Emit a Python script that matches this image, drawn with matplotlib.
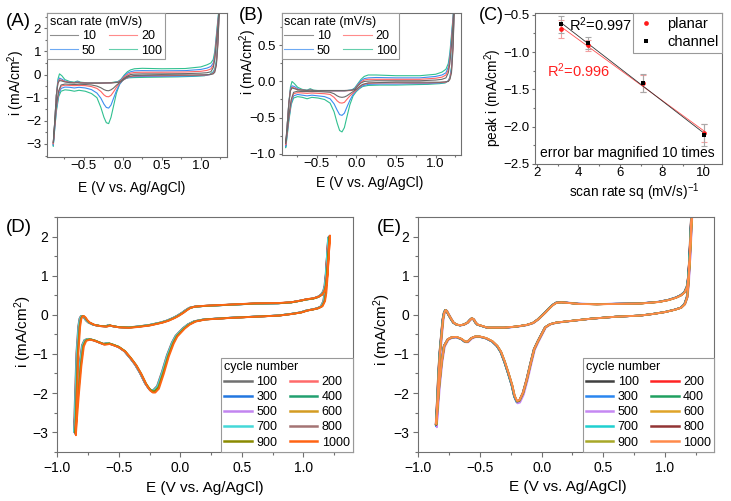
import numpy as np
import matplotlib
matplotlib.use("Agg")
import matplotlib.pyplot as plt
from matplotlib.lines import Line2D
from matplotlib.ticker import MultipleLocator

plt.rcParams['font.family'] = ['Liberation Sans', 'DejaVu Sans']
plt.rcParams['mathtext.fontset'] = 'custom'
plt.rcParams['mathtext.rm'] = 'Liberation Sans'
plt.rcParams['mathtext.it'] = 'Liberation Sans:italic'
plt.rcParams['mathtext.bf'] = 'Liberation Sans:bold'

# ------------------------------------------------------------------ data
# Panels A / B : CV at different scan rates (cathodic sweep then anodic sweep)
scan_rates = ["10", "20", "50", "100"]
scan_colors = ['#6a6a6a', '#ff6464', '#3c8cf0', '#30c090']

cv_E_cath = [1.24, 1.22, 1.20, 1.18, 1.16, 1.12, 1.05, 0.90, 0.70, 0.50, 0.30, 0.15, 0.08, 0.04, 0.00,
             -0.04, -0.08, -0.12, -0.15, -0.18, -0.21, -0.24, -0.28, -0.33, -0.40, -0.48, -0.56, -0.62,
             -0.68, -0.74, -0.79, -0.82, -0.85, -0.87, -0.89]
cv_E_anod = [-0.89, -0.87, -0.85, -0.83, -0.81, -0.78, -0.74, -0.68, -0.62, -0.58, -0.54, -0.45, -0.30,
             -0.15, -0.06, -0.02, 0.02, 0.06, 0.10, 0.15, 0.25, 0.50, 0.80, 1.00, 1.08, 1.13, 1.16, 1.18,
             1.20, 1.22, 1.24]

A_cath_10 = [3.0, 1.3, 0.4, 0.1, 0.03, 0.0, -0.01, -0.02, -0.02, -0.02, -0.03, -0.04, -0.08, -0.15, -0.25,
             -0.35, -0.46, -0.59, -0.66, -0.70, -0.69, -0.65, -0.57, -0.50, -0.45, -0.43, -0.42, -0.43,
             -0.42, -0.41, -0.45, -0.70, -1.30, -2.10, -2.95]
A_cath_20 = [3.0, 1.4, 0.45, 0.15, 0.05, 0.0, -0.02, -0.03, -0.04, -0.05, -0.05, -0.06, -0.10, -0.16, -0.25,
             -0.37, -0.55, -0.76, -0.90, -0.96, -0.95, -0.88, -0.73, -0.60, -0.52, -0.48, -0.47, -0.48,
             -0.47, -0.46, -0.50, -0.75, -1.40, -2.20, -3.00]
A_cath_50 = [3.0, 1.5, 0.5, 0.2, 0.08, 0.0, -0.04, -0.06, -0.07, -0.08, -0.08, -0.09, -0.12, -0.17, -0.25,
             -0.42, -0.70, -1.05, -1.32, -1.45, -1.42, -1.28, -1.02, -0.80, -0.65, -0.58, -0.55, -0.58,
             -0.55, -0.54, -0.60, -0.85, -1.50, -2.30, -3.05]
A_cath_100 = [3.0, 1.6, 0.6, 0.25, 0.12, 0.02, -0.05, -0.08, -0.10, -0.11, -0.12, -0.13, -0.14, -0.16, -0.25,
              -0.42, -0.80, -1.40, -1.85, -2.12, -2.08, -1.85, -1.42, -1.00, -0.82, -0.72, -0.68, -0.72,
              -0.68, -0.66, -0.72, -0.95, -1.60, -2.30, -3.10]
A_anod_10 = [-2.95, -2.0, -0.9, -0.38, -0.26, -0.28, -0.32, -0.35, -0.36, -0.35, -0.36, -0.37, -0.37, -0.36,
             -0.34, -0.28, -0.15, -0.06, 0.0, 0.02, 0.03, 0.03, 0.04, 0.06, 0.08, 0.12, 0.3, 0.65, 1.4, 2.1, 3.0]
A_anod_20 = [-3.0, -2.0, -0.9, -0.35, -0.22, -0.25, -0.30, -0.34, -0.35, -0.33, -0.35, -0.37, -0.37, -0.36,
             -0.33, -0.25, -0.10, 0.0, 0.06, 0.09, 0.10, 0.10, 0.11, 0.14, 0.18, 0.24, 0.4, 0.75, 1.5, 2.2, 3.0]
A_anod_50 = [-3.05, -2.0, -0.9, -0.30, -0.15, -0.20, -0.28, -0.33, -0.35, -0.31, -0.35, -0.37, -0.37, -0.36,
             -0.32, -0.22, -0.06, 0.06, 0.12, 0.16, 0.17, 0.16, 0.17, 0.22, 0.28, 0.35, 0.5, 0.85, 1.6, 2.3, 3.0]
A_anod_100 = [-3.1, -2.0, -0.9, -0.20, 0.03, -0.05, -0.22, -0.30, -0.33, -0.28, -0.33, -0.36, -0.36, -0.35,
              -0.30, -0.20, -0.02, 0.12, 0.20, 0.25, 0.27, 0.25, 0.26, 0.33, 0.42, 0.50, 0.65, 1.0, 1.7, 2.4, 3.0]

B_cath_10 = [1.2, 0.45, 0.12, 0.03, 0.0, -0.005, -0.01, -0.01, -0.01, -0.01, -0.015, -0.02, -0.04, -0.07, -0.11,
             -0.14, -0.17, -0.20, -0.215, -0.22, -0.215, -0.20, -0.17, -0.15, -0.145, -0.14, -0.14, -0.14,
             -0.14, -0.135, -0.15, -0.25, -0.48, -0.68, -0.86]
B_cath_20 = [1.2, 0.5, 0.15, 0.04, 0.005, -0.01, -0.015, -0.02, -0.02, -0.02, -0.02, -0.025, -0.045, -0.08, -0.12,
             -0.16, -0.20, -0.25, -0.29, -0.30, -0.295, -0.27, -0.22, -0.18, -0.17, -0.165, -0.16, -0.165,
             -0.16, -0.155, -0.17, -0.27, -0.50, -0.70, -0.88]
B_cath_50 = [1.2, 0.55, 0.18, 0.05, 0.01, -0.015, -0.02, -0.03, -0.03, -0.035, -0.035, -0.04, -0.06, -0.09, -0.13,
             -0.18, -0.26, -0.36, -0.44, -0.47, -0.46, -0.40, -0.31, -0.24, -0.21, -0.20, -0.19, -0.20,
             -0.19, -0.18, -0.20, -0.30, -0.52, -0.72, -0.90]
B_cath_100 = [1.2, 0.6, 0.2, 0.06, 0.01, -0.02, -0.03, -0.04, -0.045, -0.05, -0.05, -0.055, -0.07, -0.10, -0.14,
              -0.20, -0.32, -0.50, -0.64, -0.70, -0.68, -0.58, -0.42, -0.30, -0.25, -0.23, -0.22, -0.24,
              -0.22, -0.21, -0.23, -0.32, -0.55, -0.75, -0.92]
B_anod_10 = [-0.86, -0.6, -0.3, -0.13, -0.09, -0.10, -0.115, -0.12, -0.125, -0.12, -0.125, -0.125, -0.125, -0.125,
             -0.12, -0.11, -0.06, -0.02, 0.0, 0.005, 0.01, 0.01, 0.01, 0.02, 0.03, 0.05, 0.12, 0.25, 0.5, 0.8, 1.2]
B_anod_20 = [-0.88, -0.6, -0.3, -0.12, -0.08, -0.09, -0.11, -0.12, -0.125, -0.12, -0.125, -0.13, -0.13, -0.13,
             -0.125, -0.11, -0.05, -0.01, 0.02, 0.03, 0.03, 0.03, 0.03, 0.045, 0.06, 0.09, 0.16, 0.3, 0.55, 0.85, 1.2]
B_anod_50 = [-0.90, -0.6, -0.3, -0.11, -0.06, -0.07, -0.10, -0.12, -0.125, -0.115, -0.125, -0.13, -0.13, -0.13,
             -0.12, -0.10, -0.04, 0.01, 0.04, 0.05, 0.055, 0.05, 0.05, 0.07, 0.09, 0.12, 0.2, 0.35, 0.6, 0.88, 1.2]
B_anod_100 = [-0.92, -0.6, -0.3, -0.08, 0.0, -0.03, -0.08, -0.11, -0.12, -0.10, -0.12, -0.13, -0.13, -0.13,
              -0.12, -0.09, -0.03, 0.03, 0.07, 0.09, 0.09, 0.08, 0.08, 0.10, 0.13, 0.17, 0.25, 0.4, 0.65, 0.9, 1.2]

# Panel C : peak current vs sqrt(scan rate)
sq_rate = [3.162, 4.472, 7.071, 10.0]
planar_i = [-0.69, -0.91, -1.42, -2.08]
planar_err = [0.12, 0.07, 0.11, 0.12]
channel_i = [-0.63, -0.88, -1.41, -2.11]
channel_err = [0.12, 0.08, 0.12, 0.15]

# Panels D / E : cycling
cycles = ["100", "200", "300", "400", "500", "600", "700", "800", "900", "1000"]
D_colors = ['#707070', '#ff6a6a', '#2277e0', '#22a070', '#c285f0', '#d49c22', '#44d8d8', '#a47474',
            '#8a8a00', '#ff6414']
E_colors = ['#404040', '#ff2424', '#2a86f0', '#20a060', '#c588f2', '#e0a428', '#1fd0d0', '#923434',
            '#a8a828', '#ff8a4a']

D_E_cath = [1.21, 1.20, 1.19, 1.18, 1.17, 1.15, 1.12, 1.08, 1.03, 0.98, 0.90, 0.80, 0.60, 0.40, 0.20, 0.12,
            0.07, 0.03, 0.00, -0.03, -0.06, -0.10, -0.14, -0.18, -0.21, -0.23, -0.25, -0.28, -0.32, -0.36,
            -0.40, -0.45, -0.50, -0.55, -0.58, -0.62, -0.66, -0.70, -0.74, -0.77, -0.79, -0.81, -0.83,
            -0.845, -0.855]
D_i_cath = [2.0, 1.5, 0.95, 0.55, 0.35, 0.22, 0.17, 0.14, 0.11, 0.06, 0.02, -0.02, -0.05, -0.08, -0.12, -0.17,
            -0.25, -0.35, -0.45, -0.55, -0.73, -1.06, -1.49, -1.87, -1.97, -1.97, -1.92, -1.78, -1.52, -1.30,
            -1.13, -0.94, -0.83, -0.77, -0.74, -0.76, -0.71, -0.66, -0.63, -0.66, -0.80, -1.30, -2.00,
            -2.60, -3.05]
D_E_anod = [-0.855, -0.845, -0.835, -0.82, -0.81, -0.80, -0.79, -0.775, -0.76, -0.74, -0.70, -0.65, -0.60,
            -0.575, -0.555, -0.50, -0.42, -0.35, -0.25, -0.15, -0.10, -0.05, -0.02, 0.02, 0.05, 0.08, 0.12,
            0.20, 0.40, 0.60, 0.80, 0.90, 0.97, 1.03, 1.08, 1.12, 1.15, 1.17, 1.18, 1.19, 1.20, 1.21]
D_i_anod = [-3.05, -2.0, -1.0, -0.3, -0.1, -0.04, -0.03, -0.07, -0.14, -0.20, -0.26, -0.29, -0.30, -0.27,
            -0.29, -0.32, -0.33, -0.31, -0.27, -0.20, -0.15, -0.08, -0.03, 0.05, 0.12, 0.18, 0.21, 0.23, 0.26,
            0.29, 0.30, 0.32, 0.36, 0.40, 0.42, 0.46, 0.52, 0.62, 0.75, 1.05, 1.50, 2.0]
D_shift = [-0.010, -0.008, -0.006, -0.005, -0.004, -0.002, -0.006, 0.000, 0.002, 0.006]
D_scale = [0.975, 0.98, 0.985, 0.985, 0.99, 0.99, 0.98, 1.0, 0.99, 1.01]

E_E_cath = [1.22, 1.21, 1.20, 1.19, 1.18, 1.16, 1.13, 1.08, 1.00, 0.90, 0.80, 0.60, 0.40, 0.23, 0.12, 0.07,
            0.03, 0.00, -0.03, -0.06, -0.09, -0.12, -0.15, -0.18, -0.20, -0.22, -0.24, -0.27, -0.30, -0.33,
            -0.36, -0.40, -0.45, -0.50, -0.54, -0.57, -0.60, -0.62, -0.65, -0.69, -0.73, -0.76, -0.79,
            -0.81, -0.83, -0.845, -0.855]
E_i_cath = [2.7, 2.2, 1.4, 0.8, 0.45, 0.27, 0.18, 0.13, 0.07, 0.02, -0.02, -0.05, -0.10, -0.16, -0.20, -0.24,
            -0.32, -0.50, -0.68, -0.88, -1.26, -1.66, -2.00, -2.20, -2.22, -2.08, -1.80, -1.49, -1.20, -0.95,
            -0.80, -0.68, -0.60, -0.56, -0.56, -0.60, -0.69, -0.69, -0.62, -0.57, -0.58, -0.63, -0.80,
            -1.20, -1.80, -2.40, -2.82]
E_E_anod = [-0.855, -0.845, -0.835, -0.825, -0.81, -0.80, -0.79, -0.78, -0.77, -0.755, -0.735, -0.715, -0.69,
            -0.66, -0.63, -0.60, -0.58, -0.565, -0.55, -0.535, -0.52, -0.50, -0.47, -0.44, -0.38, -0.30,
            -0.20, -0.12, -0.07, -0.03, 0.00, 0.03, 0.06, 0.09, 0.12, 0.16, 0.20, 0.30, 0.45, 0.60, 0.80,
            0.95, 1.03, 1.09, 1.13, 1.16, 1.18, 1.19, 1.20, 1.21, 1.22]
E_i_anod = [-2.82, -2.2, -1.5, -0.98, -0.45, -0.12, 0.05, 0.12, 0.10, 0.01, -0.10, -0.20, -0.25, -0.27, -0.25,
            -0.20, -0.13, -0.09, -0.12, -0.20, -0.25, -0.27, -0.30, -0.33, -0.33, -0.33, -0.30, -0.26, -0.21,
            -0.12, -0.03, 0.06, 0.16, 0.25, 0.31, 0.32, 0.31, 0.28, 0.27, 0.28, 0.29, 0.33, 0.38, 0.44, 0.50,
            0.58, 0.72, 0.95, 1.40, 2.0, 2.7]
E_shift = [-0.004, -0.003, -0.002, -0.002, 0.005, 0.0, -0.001, 0.001, 0.002, 0.0]
E_scale = [1.0, 1.0, 1.01, 1.0, 1.02, 0.995, 1.0, 1.0, 0.995, 0.99]

# ------------------------------------------------------------------ figure
W, H = 731, 501
fig = plt.figure(figsize=(W / 100, H / 100), dpi=100)


def rect(x0, y0, x1, y1):
    return [x0 / W, 1 - y1 / H, (x1 - x0) / W, (y1 - y0) / H]


def fxy(px, py):
    return (px / W, 1 - py / H)


SPC = '#707070'


def style(ax, fs, xmaj, xmin, ymaj, ymin, xlen, xpad, ylen, ypad):
    for s in ax.spines.values():
        s.set_color(SPC)
        s.set_linewidth(0.8)
    ax.xaxis.set_major_locator(MultipleLocator(xmaj))
    ax.xaxis.set_minor_locator(MultipleLocator(xmin))
    ax.yaxis.set_major_locator(MultipleLocator(ymaj))
    ax.yaxis.set_minor_locator(MultipleLocator(ymin))
    ax.tick_params(which='both', direction='out', color=SPC, width=0.8, labelsize=fs)
    ax.tick_params(axis='x', which='major', length=xlen, pad=xpad)
    ax.tick_params(axis='x', which='minor', length=xlen * 0.6)
    ax.tick_params(axis='y', which='major', length=ylen, pad=ypad)
    ax.tick_params(axis='y', which='minor', length=ylen * 0.6)


def labels(ax, xl, yl, xpos, ypos, fs):
    ax.set_xlabel(xl, fontsize=fs)
    ax.xaxis.set_label_coords(*fxy(*xpos), transform=fig.transFigure)
    ax.xaxis.label.set_va('center')
    ax.set_ylabel(yl, fontsize=fs)
    ax.yaxis.set_label_coords(*fxy(*ypos), transform=fig.transFigure)
    ax.yaxis.label.set_va('center')


def scan_panel(ax, cath, anod):
    for k in range(3, -1, -1):
        ax.plot(cv_E_cath + cv_E_anod, cath[k] + anod[k], color=scan_colors[k], lw=0.8)
    hs = [Line2D([], [], color=scan_colors[k], lw=0.8, alpha=0.75) for k in range(4)]
    order = [0, 2, 1, 3]
    ax.legend([hs[k] for k in order], [scan_rates[k] for k in order], title='scan rate (mV/s)',
              loc='upper left', ncol=2, fontsize=9, title_fontsize=9, alignment='left',
              borderaxespad=0, borderpad=0.2, labelspacing=0.2, handlelength=2.3, handletextpad=0.3,
              columnspacing=1.0, fancybox=False, edgecolor='#999999', framealpha=1).get_frame().set_linewidth(0.8)


# ---- A
axA = fig.add_axes(rect(47, 13, 226.5, 156.7))
scan_panel(axA, [A_cath_10, A_cath_20, A_cath_50, A_cath_100], [A_anod_10, A_anod_20, A_anod_50, A_anod_100])
axA.set_xlim(-0.97, 1.33)
axA.set_ylim(-3.55, 2.66)
style(axA, 9.5, 0.5, 0.25, 1, 0.5, 2, 0.5, 2.5, 1.8)
labels(axA, 'E (V vs. Ag/AgCl)', 'i (mA/cm$^2$)', (132, 188), (16, 83), 10)

# ---- B
axB = fig.add_axes(rect(281.7, 13, 461, 155))
scan_panel(axB, [B_cath_10, B_cath_20, B_cath_50, B_cath_100], [B_anod_10, B_anod_20, B_anod_50, B_anod_100])
axB.set_xlim(-0.94, 1.32)
axB.set_ylim(-1.02, 0.95)
style(axB, 9.5, 0.5, 0.25, 0.5, 0.25, 2, 0.5, 2.5, 1.8)
labels(axB, 'E (V vs. Ag/AgCl)', 'i (mA/cm$^2$)', (370, 183), (248, 62), 10)

# ---- C
axC = fig.add_axes(rect(535, 13.3, 722, 164))
axC.errorbar(sq_rate, planar_i, yerr=planar_err, fmt='none', ecolor='#f2a0a0', elinewidth=0.8,
             capsize=2.5, capthick=0.8)
axC.errorbar(sq_rate, channel_i, yerr=channel_err, fmt='none', ecolor='#a8a8a8', elinewidth=0.8,
             capsize=2.5, capthick=0.8)
pp = np.polyfit(sq_rate, planar_i, 1)
pc = np.polyfit(sq_rate, channel_i, 1)
xs = np.array([sq_rate[0], sq_rate[-1]])
axC.plot(xs, np.polyval(pp, xs), color='#ff5050', lw=0.6)
axC.plot(xs, np.polyval(pc, xs), color='#333333', lw=0.6)
axC.plot(sq_rate, planar_i, 'o', color='#ff1a1a', ms=3.4, mew=0)
axC.plot(sq_rate, channel_i, 's', color='black', ms=3.2, mew=0)
axC.set_xlim(1.92, 10.87)
axC.set_ylim(-2.5, -0.48)
style(axC, 9.5, 2, 1, 0.5, 0.25, 2, 0.5, 2.5, 1.5)
labels(axC, 'scan rate sq (mV/s)$^{-1}$', 'peak i (mA/cm$^2$)', (634, 192), (493, 98), 9.8)
axC.text(0.183, 0.927, 'R$^2$=0.997', transform=axC.transAxes, fontsize=10.5, va='center', ha='left')
axC.text(0.063, 0.619, 'R$^2$=0.996', transform=axC.transAxes, fontsize=10.5, va='center', ha='left',
         color='#ff2020')
axC.text(0.027, 0.071, 'error bar magnified 10 times', transform=axC.transAxes, fontsize=10,
         va='center', ha='left')
hC = [Line2D([], [], marker='o', ls='none', color='#ff1a1a', ms=3.4, mew=0),
      Line2D([], [], marker='s', ls='none', color='black', ms=3.2, mew=0)]
legC = axC.legend(hC, ['planar', 'channel'], loc='upper right', fontsize=10.5, borderaxespad=0,
                  borderpad=0.25, labelspacing=0.28, handlelength=1.3, handletextpad=0.8,
                  fancybox=False, edgecolor='#999999', framealpha=1)
legC.get_frame().set_linewidth(0.8)


# ---- D / E
def cycle_panel(ax, Ec, ic, Ea, ia, shifts, scales, colors):
    Eall = np.array(Ec + Ea)
    iall = np.array(ic + ia)
    for k in range(10):
        ax.plot(Eall + shifts[k], iall * scales[k], color=colors[k], lw=1.3)
    hs = [Line2D([], [], color=colors[k], lw=1.8) for k in range(10)]
    order = [0, 2, 4, 6, 8, 1, 3, 5, 7, 9]
    leg = ax.legend([hs[k] for k in order], [cycles[k] for k in order], title='cycle number',
                    loc='lower right', ncol=2, fontsize=9, title_fontsize=9, alignment='left',
                    borderaxespad=0, borderpad=0.25, labelspacing=0.25, handlelength=2.2,
                    handletextpad=0.35, columnspacing=1.0, fancybox=False, edgecolor='#999999',
                    framealpha=1)
    leg.get_frame().set_linewidth(0.8)
    ax.set_xlim(-1.0, 1.4)
    ax.set_ylim(-3.5, 2.5)
    style(ax, 10, 0.5, 0.25, 1, 0.5, 3.5, 3.5, 3.5, 3.0)


axD = fig.add_axes(rect(57.3, 217, 352.7, 451.7))
cycle_panel(axD, D_E_cath, D_i_cath, D_E_anod, D_i_anod, D_shift, D_scale, D_colors)
labels(axD, 'E (V vs. Ag/AgCl)', 'i (mA/cm$^2$)', (205, 488), (23, 332), 11)

axE = fig.add_axes(rect(418.3, 217, 714.3, 451.7))
cycle_panel(axE, E_E_cath, E_i_cath, E_E_anod, E_i_anod, E_shift, E_scale, E_colors)
labels(axE, 'E (V vs. Ag/AgCl)', 'i (mA/cm$^2$)', (567.5, 487), (382, 330), 11)

# panel letters
for lab, (px, py, fs) in [('(A)', (18, 22, 13.5)), ('(B)', (251, 15, 13.5)), ('(C)', (491, 15, 13)),
                          ('(D)', (19, 227, 13.5)), ('(E)', (389, 227, 13.5))]:
    fig.text(*fxy(px, py), lab, fontsize=fs, ha='center', va='center')

fig.savefig('out.png', dpi=100)
